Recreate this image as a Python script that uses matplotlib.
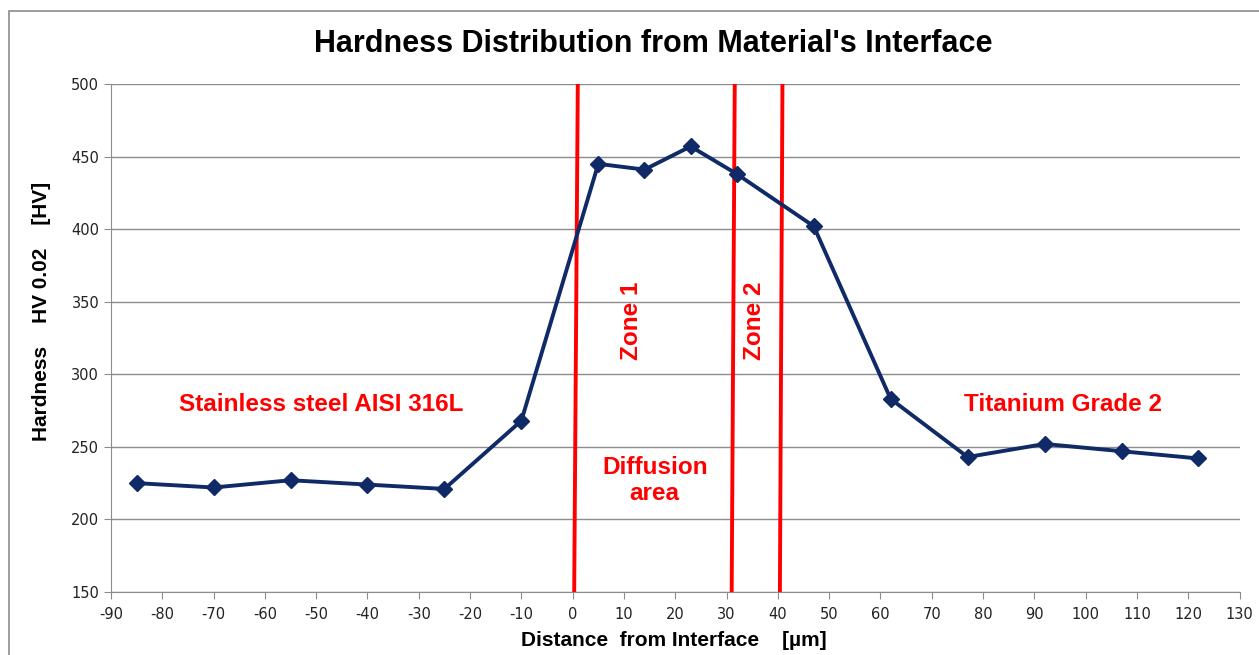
import matplotlib
matplotlib.use("Agg")
from matplotlib import pyplot as plt
from matplotlib.patches import Rectangle

# measured points
distance = [-85, -70, -55, -40, -25, -10, 5, 14, 23, 32, 47, 62, 77, 92, 107, 122]
hardness = [225, 222, 227, 224, 221, 268, 445, 441, 457, 438, 402, 283, 243, 252, 247, 242]

# zone borders (slightly slanted, top / bottom)
border_bottom = [0.3, 31.0, 40.4]
border_top = [1.0, 31.6, 40.9]

x_ticks = list(range(-90, 131, 10))
y_ticks = list(range(150, 501, 50))

navy = '#0f2a66'
red = '#ff0000'
grey = '#8c8c8c'

plt.rcParams['axes.unicode_minus'] = False

fig = plt.figure(figsize=(12.59, 6.55), dpi=100)
# outer chart frame
fig.patches.append(Rectangle((9 / 1259, -0.1), 1.2, 1 - 11 / 655 + 0.1,
                             transform=fig.transFigure, fill=False,
                             edgecolor=grey, linewidth=1.2))

ax = fig.add_axes([111 / 1259, 1 - 592 / 655, (1239.5 - 111) / 1259, (592 - 84) / 655])
ax.set_xlim(-90, 130)
ax.set_ylim(150, 500)
ax.set_xticks(x_ticks)
ax.set_yticks(y_ticks)
ax.grid(axis='y', color=grey, linewidth=1.0)
ax.set_axisbelow(True)
for s in ['top', 'right']:
    ax.spines[s].set_visible(False)
for s in ['left', 'bottom']:
    ax.spines[s].set_color(grey)
ax.tick_params(colors=grey, labelcolor='#222222', labelsize=10.5, length=5)
ax.tick_params(axis='x', pad=6)

for b, t in zip(border_bottom, border_top):
    ax.plot([b, t], [150, 500], color=red, linewidth=2.8, zorder=2)

ax.plot(distance, hardness, color=navy, linewidth=2.8, marker='D',
        markersize=8.5, zorder=3)

txt = dict(color=red, fontweight='bold', family='Liberation Sans', fontsize=17.5)
ax.text(-49, 279, 'Stainless steel AISI 316L', ha='center', va='center', **txt)
ax.text(95.5, 279, 'Titanium Grade 2', ha='center', va='center', **txt)
ax.text(16, 227, 'Diffusion\narea', ha='center', va='center', linespacing=1.15, **txt)
ax.text(11.5, 337, 'Zone 1', ha='center', va='center', rotation=90, **txt)
ax.text(35.5, 337, 'Zone 2', ha='center', va='center', rotation=90, **txt)

fig.text(653 / 1259, 1 - 44 / 655, "Hardness Distribution from Material's Interface",
         ha='center', va='center', fontsize=22, fontweight='bold', family='Liberation Sans')
fig.text(674 / 1259, 1 - 641 / 655, 'Distance  from Interface    [\u00b5m]',
         ha='center', va='center', fontsize=15, fontweight='bold', family='Liberation Sans')
fig.text(42 / 1259, 1 - 311 / 655, 'Hardness    HV 0.02    [HV]', rotation=90,
         ha='center', va='center', fontsize=15, fontweight='bold', family='Liberation Sans')

fig.savefig('out.png', dpi=100)
